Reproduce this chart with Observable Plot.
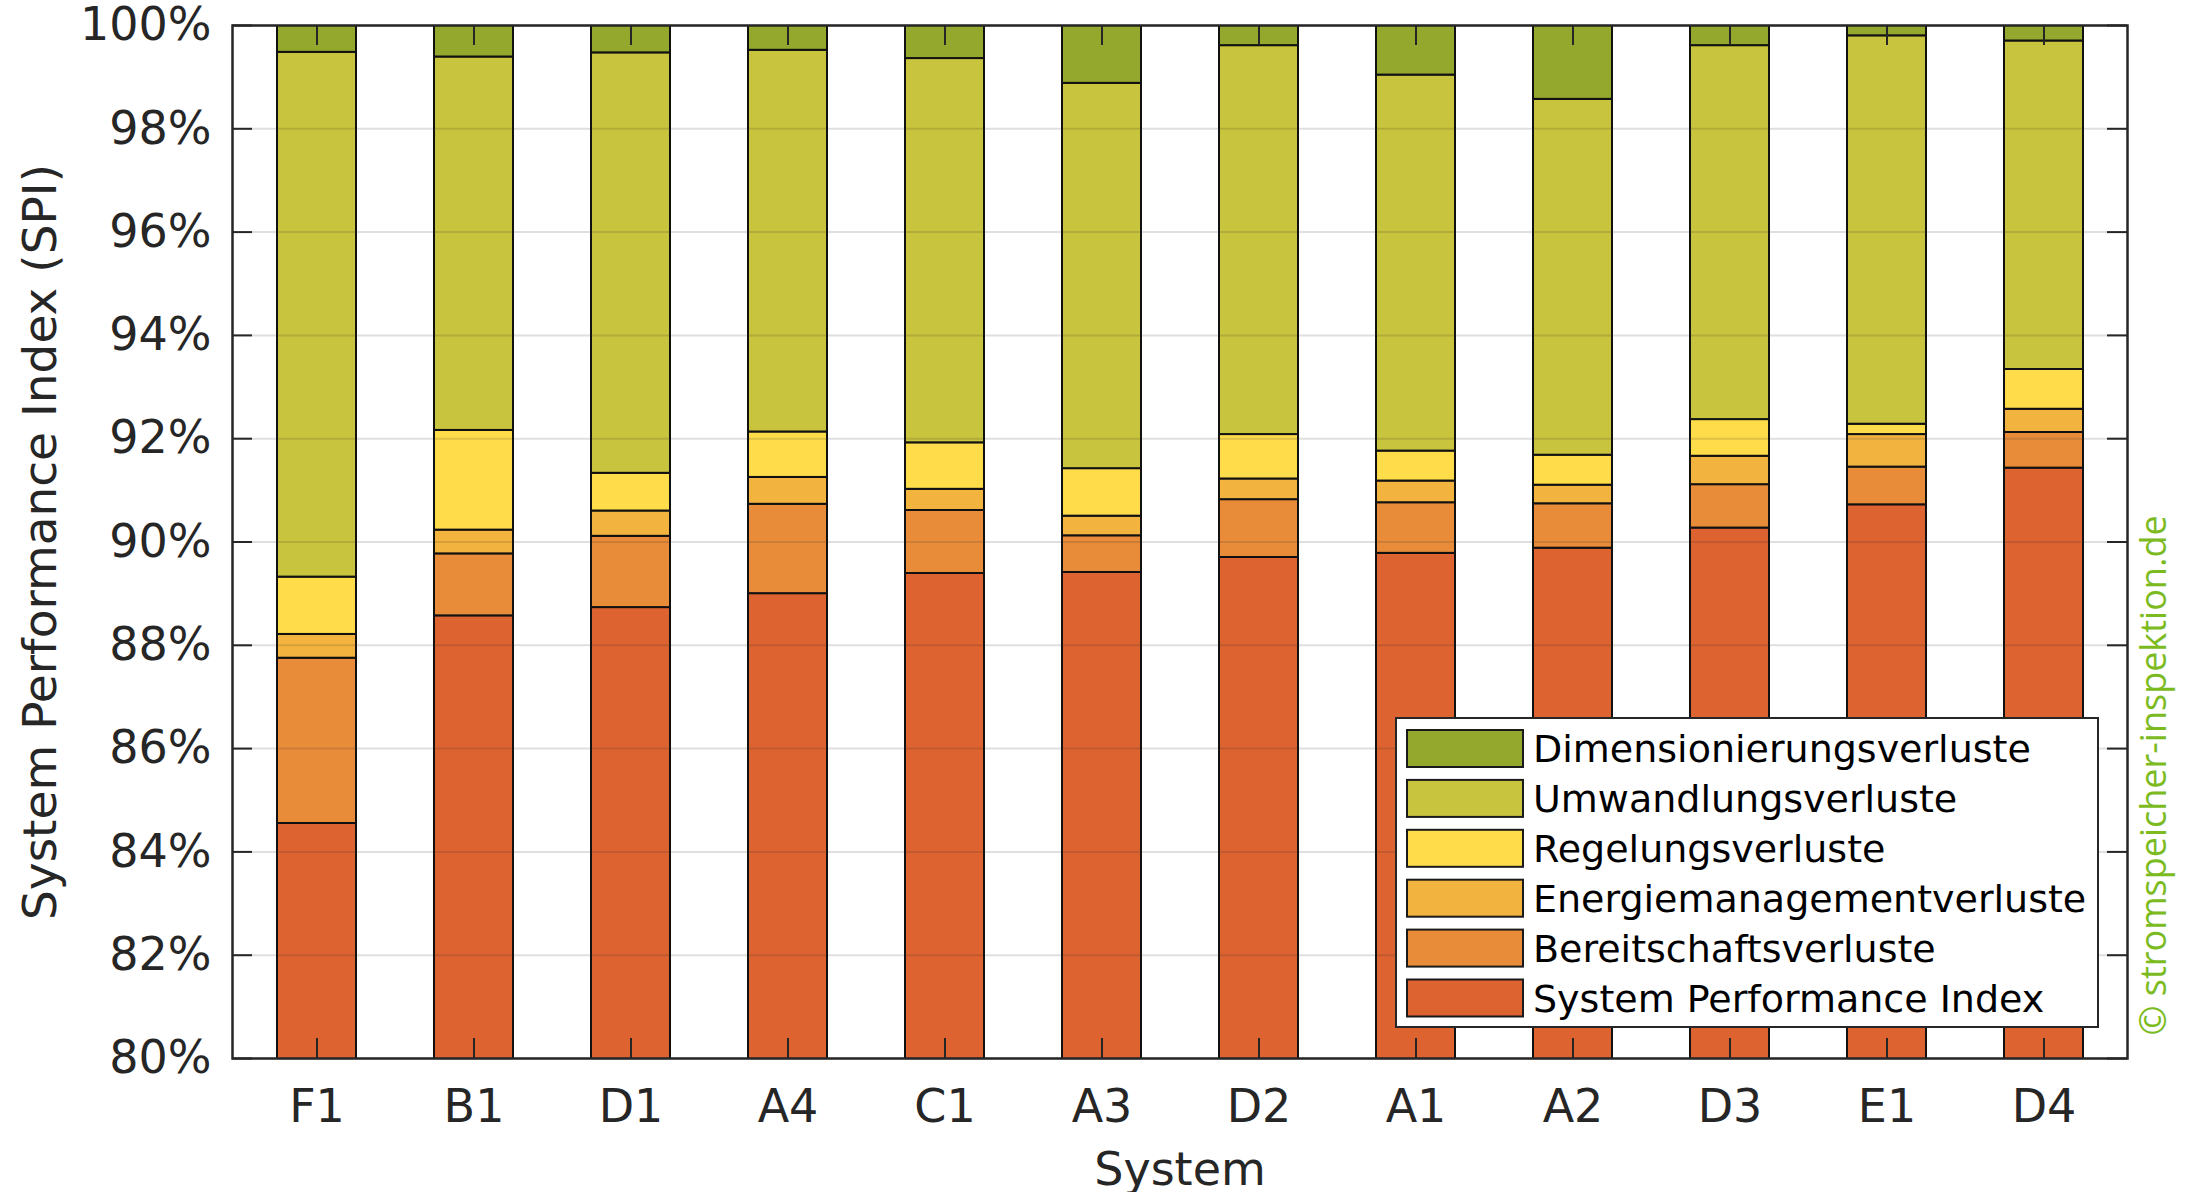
<!DOCTYPE html>
<html>
<head>
<meta charset="utf-8">
<script src="https://cdn.jsdelivr.net/npm/d3@7"></script>
<script src="https://cdn.jsdelivr.net/npm/@observablehq/plot@0.6"></script>
<style>
  body { margin: 0; background: #ffffff; }
  #chart svg { display: block; }
</style>
</head>
<body>
<div id="chart"></div>
<script>
// ---- data ----
const systems = ["F1", "B1", "D1", "A4", "C1", "A3", "D2", "A1", "A2", "D3", "E1", "D4"];
// stacked from bottom to top
const categories = [
  "System Performance Index",
  "Bereitschaftsverluste",
  "Energiemanagementverluste",
  "Regelungsverluste",
  "Umwandlungsverluste",
  "Dimensionierungsverluste"
];
const spi        = [84.55, 88.57, 88.73, 89.00, 89.39, 89.41, 89.70, 89.78, 89.88, 90.27, 90.72, 91.43];
const bereit     = [3.20, 1.20, 1.38, 1.73, 1.22, 0.71, 1.12, 0.98, 0.86, 0.84, 0.73, 0.69];
const energie    = [0.46, 0.46, 0.49, 0.52, 0.41, 0.38, 0.40, 0.42, 0.36, 0.55, 0.63, 0.45];
const regelung   = [1.11, 1.93, 0.73, 0.88, 0.90, 0.92, 0.86, 0.58, 0.58, 0.71, 0.20, 0.77];
const umwandlung = [10.16, 7.23, 8.14, 7.39, 7.44, 7.46, 7.53, 7.28, 6.89, 7.24, 7.52, 6.36];
const dimension  = [0.52, 0.61, 0.53, 0.48, 0.64, 1.12, 0.39, 0.96, 1.43, 0.39, 0.20, 0.30];
const colors = ["#DD6331", "#E88C3A", "#F3B43F", "#FEDC4A", "#C9C43D", "#94A82D"];
const yTicks = [80, 82, 84, 86, 88, 90, 92, 94, 96, 98, 100];
const yTitle = "System Performance Index (SPI)";
const xTitle = "System";
const watermark = "© stromspeicher-inspektion.de";

// ---- layout ----
const W = 2185, H = 1192;
const mL = 232, mR = 58, mT = 25, mB = 134;
const plotW = W - mL - mR, plotH = H - mT - mB;
const tickLen = 20;
const ink = "#262626";

const series = [spi, bereit, energie, regelung, umwandlung, dimension];
const rows = [];
systems.forEach((s, i) => {
  categories.forEach((c, k) => rows.push({system: s, category: c, value: series[k][i]}));
});

const chart = Plot.plot({
  width: W, height: H,
  marginLeft: mL, marginRight: mR, marginTop: mT, marginBottom: mB,
  style: {fontFamily: "DejaVu Sans", fontSize: "46px", color: ink, background: "#ffffff", overflow: "visible"},
  x: {type: "band", domain: systems, paddingInner: 0.5, paddingOuter: 0.25, label: null},
  y: {domain: [80, 100], label: null},
  color: {domain: categories, range: colors},
  marks: [
    Plot.barY(rows, {x: "system", y: "value", fill: "category", stroke: "#111111", strokeWidth: 2, clip: true}),
    Plot.ruleY(yTicks, {y: d => d, stroke: ink, strokeOpacity: 0.15, strokeWidth: 2}),
    // inward ticks (left / right / bottom / top)
    Plot.ruleY(yTicks, {y: d => d, insetRight: plotW - tickLen, stroke: ink, strokeWidth: 2}),
    Plot.ruleY(yTicks, {y: d => d, insetLeft: plotW - tickLen, stroke: ink, strokeWidth: 2}),
    Plot.ruleX(systems, {x: d => d, insetTop: plotH - tickLen, stroke: ink, strokeWidth: 2}),
    Plot.ruleX(systems, {x: d => d, insetBottom: plotH - tickLen, stroke: ink, strokeWidth: 2}),
    Plot.frame({stroke: ink, strokeWidth: 2.5}),
    Plot.axisY({ticks: yTicks, tickFormat: d => d + "%", tickSize: 0, tickPadding: 21, fontSize: 46, label: null, color: ink}),
    Plot.axisX({tickSize: 0, tickPadding: 31, fontSize: 46, label: null, color: ink}),
    Plot.text([yTitle], {frameAnchor: "left", textAnchor: "middle", lineAnchor: "middle", rotate: -90, dx: -192, fontSize: 47, fill: ink}),
    Plot.text([xTitle], {frameAnchor: "bottom", textAnchor: "middle", lineAnchor: "middle", dy: 112, fontSize: 46, fill: ink}),
    Plot.text([watermark], {frameAnchor: "bottom-right", rotate: -90, textAnchor: "start", lineAnchor: "middle", dx: 27, dy: -23,
      fontSize: 36, fontFamily: "Open Sans", fill: "#7CBB1F"})
  ]
});

// ---- legend (inside the plot, lower right) ----
const svg = d3.select(chart);
const lg = svg.append("g").attr("class", "legend").attr("text-anchor", "start");
const box = {x: 1396, y: 718, w: 702, h: 309};
lg.append("rect").attr("x", box.x).attr("y", box.y).attr("width", box.w).attr("height", box.h)
  .attr("fill", "#ffffff").attr("stroke", ink).attr("stroke-width", 2);
const legendOrder = categories.slice().reverse();
const legendColors = colors.slice().reverse();
legendOrder.forEach((c, i) => {
  const y0 = box.y + 12 + i * 49.9;
  lg.append("rect").attr("x", box.x + 11).attr("y", y0).attr("width", 116).attr("height", 37)
    .attr("fill", legendColors[i]).attr("stroke", "#1a1a1a").attr("stroke-width", 2);
  lg.append("text").attr("x", box.x + 137).attr("y", y0 + 18.5).attr("dy", "0.36em")
    .attr("text-anchor", "start")
    .attr("font-family", "DejaVu Sans").attr("font-size", 38).attr("fill", "#000000").text(c);
});

document.getElementById("chart").appendChild(chart);
</script>
</body>
</html>
